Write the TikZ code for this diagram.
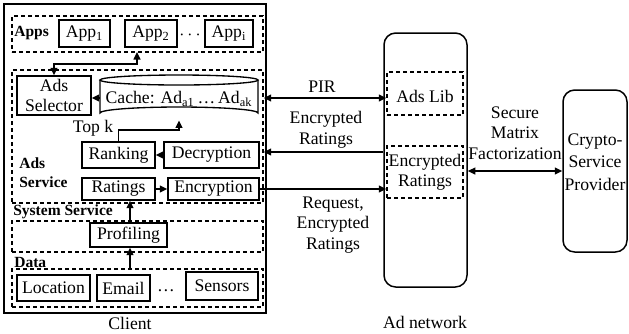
\documentclass[tikz,border=0pt]{standalone}
\usepackage{fontspec}
\setmainfont{Liberation Serif}
\usetikzlibrary{arrows.meta,calc}
\tikzset{
  box/.style={draw,line width=0.8pt,inner sep=0pt,font=\fontsize{10.6}{12.3}\selectfont},
  dbox/.style={draw,line width=0.8pt,dash pattern=on 2.6pt off 1.6pt,inner sep=0pt},
  rbox/.style={draw,line width=0.9pt,rounded corners=7pt,inner sep=0pt},
  lbl/.style={font=\fontsize{10.6}{12.3}\selectfont,align=center,inner sep=0pt},
  blbl/.style={font=\fontsize{9.3}{11.5}\selectfont\bfseries,align=left,inner sep=0pt,anchor=west},
  arr/.style={line width=1.1pt,-{Triangle[length=4.5pt,width=4pt]}},
  darr/.style={line width=1.1pt,{Triangle[length=4.5pt,width=4pt]}-{Triangle[length=4.5pt,width=4pt]}},
}
\begin{document}
\begin{tikzpicture}[x=0.6pt,y=-0.6pt]
\useasboundingbox (0,0) rectangle (629,333);
% Client
\node[draw,line width=1pt,minimum width=157.2pt,minimum height=185.4pt,inner sep=0pt] (client) at (135,158.5) {};
% Apps
\node[dbox,minimum width=150.6pt,minimum height=21.6pt] (apps) at (137.5,34) {};
\node[blbl] (appslbl) at (14,33) {Apps};
\node[box,minimum width=30.6pt,minimum height=16.2pt] (app1) at (84.5,33.5) {App\textsubscript{1}};
\node[box,minimum width=31.2pt,minimum height=16.2pt] (app2) at (151,33.5) {App\textsubscript{2}};
\node[lbl] (adots) at (190,35) {$\cdots$};
\node[box,minimum width=28.8pt,minimum height=16.2pt] (appi) at (229,33.5) {App\textsubscript{i}};
% Ads service
\node[dbox,minimum width=150.6pt,minimum height=79.8pt] (adsservice) at (137.5,136.5) {};
\node[box,minimum width=44.4pt,minimum height=23.4pt,align=center] (selector) at (54,95.5) {Ads\\[0pt]Selector};
\node[minimum width=94.8pt,minimum height=27pt,inner sep=0pt] (cache) at (179,97.5) {};
\draw[line width=0.8pt] (100,80) -- (100,113) arc[start angle=180,end angle=360,x radius=79,y radius=6] -- (258,80);
\draw[line width=0.8pt] (179,80) ellipse[x radius=79,y radius=5];
\node[lbl] (cachetxt) at (179,99) {Cache: Ad\textsubscript{a1}\,\ldots\,Ad\textsubscript{ak}};
\node[box,minimum width=43.8pt,minimum height=15.6pt] (ranking) at (118.5,155) {Ranking};
\node[box,minimum width=57pt,minimum height=15.6pt] (decryption) at (211.5,155) {Decryption};
\node[box,minimum width=43.8pt,minimum height=13.2pt] (ratings) at (118.5,189) {Ratings};
\node[box,minimum width=54.6pt,minimum height=13.2pt] (encryption) at (213.5,189) {Encryption};
\node[blbl] (adslbl) at (19,173) {Ads\\Service};
\node[lbl] (topk) at (93,128) {Top k};
\node[blbl] (syslbl) at (13,212) {System Service};
% Profiling
\node[dbox,minimum width=150.6pt,minimum height=18.6pt] (profarea) at (137.5,236.5) {};
\node[box,minimum width=46.2pt,minimum height=14.4pt] (profiling) at (128.5,235) {Profiling};
\node[blbl] (datalbl) at (14,262) {Data};
% Data
\node[dbox,minimum width=150.6pt,minimum height=22.8pt] (data) at (137.5,288) {};
\node[box,minimum width=43.8pt,minimum height=15.6pt] (location) at (53.5,288) {Location};
\node[box,minimum width=31.8pt,minimum height=15.6pt] (email) at (123.5,288) {Email};
\node[lbl] (ddots) at (166,291) {\ldots};
\node[box,minimum width=43.2pt,minimum height=16.8pt] (sensors) at (222,286) {Sensors};
\node[lbl] (clientlbl) at (130,323) {Client};
% Ad network
\node[rbox,minimum width=49.8pt,minimum height=152.4pt] (adnet) at (425.5,160) {};
\node[dbox,minimum width=45.6pt,minimum height=25.8pt] (adslib) at (425,93.5) {};
\node[lbl] (adslibtxt) at (425,96) {Ads Lib};
\node[dbox,minimum width=45.6pt,minimum height=31.2pt] (encratings) at (425,172) {};
\node[lbl] (encrtxt) at (425,172.5) {Encrypted\\Ratings};
\node[lbl] (adnetlbl) at (425,322) {Ad network};
% CSP
\node[rbox,minimum width=38.4pt,minimum height=97.2pt] (csp) at (595,171) {};
\node[lbl,font=\fontsize{10.6}{13.5}\selectfont] (csptxt) at (595,162) {Crypto-\\Service\\Provider};
% labels
\node[lbl] (pirlbl) at (322,87) {PIR};
\node[lbl] (erlbl) at (326,130) {Encrypted\\Ratings};
\node[lbl] (reqlbl) at (333,225) {Request,\\Encrypted\\Ratings};
\node[lbl] (smflbl) at (515,133) {Secure\\Matrix\\Factorization};
% arrows
\coordinate (appsarr) at (137,52);
\draw[darr] (appsarr) -- ++(0,12) -| (selector.north);
\draw[arr] (cache.west |- 0,98) -- (selector.east |- 0,98);
\draw[darr] (adsservice.east |- 0,98) -- (adslib.west |- 0,98);
\draw[arr] (ranking.north) -- ++(0,-11) -| (cache.south);
\draw[arr] (decryption.west) -- (ranking.east);
\draw[arr] (ratings.east) -- (encryption.west);
\draw[arr] (adnet.west |- 0,152) -- (adsservice.east |- 0,152);
\draw[arr] (encryption.east) -- (encratings.west |- encryption.east);
\draw[darr] (adnet.east |- csp.west) -- (csp.west);
\draw[arr] (profiling.north -| 130,0) -- (ratings.south -| 130,0);
\draw[arr] (data.north -| 130,0) -- (profiling.south -| 130,0);
\end{tikzpicture}
\end{document}
